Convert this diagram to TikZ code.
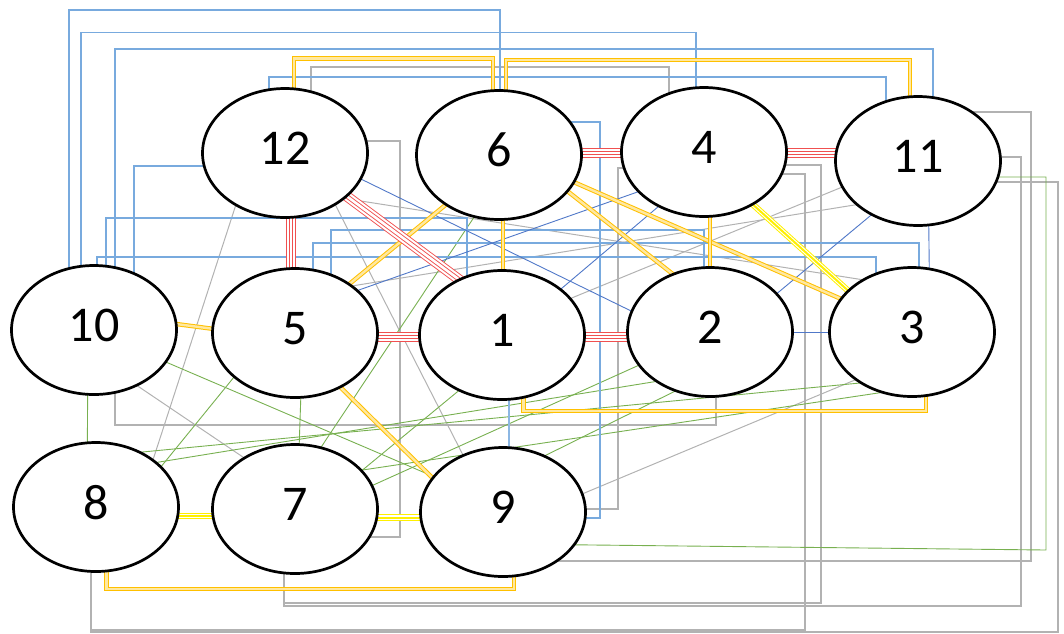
\documentclass[tikz,border=0pt]{standalone}
\usepackage{fontspec}
\setmainfont{Carlito}
\usetikzlibrary{shapes.geometric,backgrounds}
\definecolor{cred}{RGB}{240,80,80}
\definecolor{corg}{RGB}{255,192,0}
\definecolor{corgin}{RGB}{255,232,160}
\definecolor{cyel}{RGB}{255,240,0}
\definecolor{cblue}{RGB}{120,170,222}
\definecolor{cdblue}{RGB}{80,120,200}
\definecolor{cgrey}{RGB}{178,178,178}
\definecolor{cgreen}{RGB}{120,176,80}
\begin{document}
\begin{tikzpicture}[x=1pt,y=-1pt,
  vert/.style={ellipse, draw=black, line width=2.7pt, fill=white, minimum width=165pt, minimum height=129pt, inner sep=0pt, font=\fontsize{50}{60}\selectfont, text depth=10pt},
  ext/.style={shorten <=-4pt, shorten >=-4pt},
  redband/.style={ext, draw=cred, line width=0.9pt, double=white, double distance=8.6pt, postaction={draw=cred, line width=0.9pt, double=white, double distance=2.6pt}},
  orgband/.style={ext, draw=corg, line width=1pt, double=corgin, double distance=2.4pt},
  yelband/.style={ext, draw=cyel, line width=1pt, double=white, double distance=4.2pt, postaction={draw=cyel, line width=1pt, double=white, double distance=0pt}},
  broute/.style={draw=cblue, line width=1.3pt},
  bdiag/.style={ext, draw=cdblue, line width=0.9pt},
  blight/.style={draw=cblue!85, line width=1.5pt},
  groute/.style={draw=cgrey, line width=1.3pt},
  gdiag/.style={ext, draw=cgrey, line width=1pt},
  gr/.style={ext, draw=cgreen, line width=0.9pt}
]
\useasboundingbox (0,0) rectangle (1064,633);
\node[vert] (n12) at (285,153) {12};
\node[vert] (n6) at (499,155) {6};
\node[vert] (n4) at (704,152) {4};
\node[vert] (n11) at (918,161) {11};
\node[vert] (n10) at (94,330) {10};
\node[vert] (n5) at (295,333) {5};
\node[vert] (n1) at (502,335) {1};
\node[vert] (n2) at (710,332) {2};
\node[vert] (n3) at (912,332) {3};
\node[vert] (n8) at (96,507) {8};
\node[vert] (n7) at (295,509) {7};
\node[vert] (n9) at (503,512) {9};
\begin{pgfonlayer}{background}
% grey
\draw[groute] (311,0 |- n12) |- (669,67) -- (669,0 |- n4);
\draw[groute] (n12 |- 0,141) -| (400,537) -- (n7 |- 0,537);
\draw[gdiag] (n12.227) -- (n8.40);
\draw[gdiag] (n12.-46) -- (n9.125);
\draw[gdiag] (n12.-37) -- (n3.134);
\draw[gdiag] (n5.39) -- (n11.215);
\draw[gdiag] (n1.28) -- (n11.199);
\draw[groute] (n4 |- 0,168) -| (618,509) -- (n9 |- 0,509);
\draw[groute] (n4 |- 0,165) -| (821,603) -| (284,0 |- n7);
\draw[groute] (n4 |- 0,174) -| (805,630) -| (91,0 |- n8);
\draw[groute] (n11 |- 0,157) -| (1021,606) -| (284,0 |- n7);
\draw[groute] (n11 |- 0,112) -| (1031,561) -- (n9 |- 0,561);
\draw[groute] (n11 |- 0,182) -| (1058,632) -| (91,0 |- n8);
\draw[gdiag] (n10.-52) -- (n7.135);
\draw[groute] (115,0 |- n10) |- (716,425) -- (716,0 |- n2);
\draw[gdiag] (n3.220) -- (n9.13);
% green
\draw[gr] (88,0 |- n10) -- (87,0 |- n8);
\draw[gr] (n10.-24) -- (n9.153);
\draw[gr] (n5.216) -- (n8.32);
\draw[gr] (303,0 |- n5) -- (297,0 |- n7);
\draw[gr] (n6.248) -- (n7.67);
\draw[gr] (n1.232) -- (n7.30);
\draw[gr] (n2.205) -- (n7.17);
\draw[gr] (n2.222) -- (n8.36);
\draw[gr] (n2.239) -- (n9.53);
\draw[gr] (n3.224) -- (n8.50);
\draw[gr] (n3.242) -- (n7.30);
\draw[gr] (n11 |- 0,177) -| (1046,550) -- (n9 |- 0,544);
% blue
\draw[broute] (69,0 |- n10) |- (500,10) -- (500,0 |- n6);
\draw[broute] (81,0 |- n10) |- (696,32.5) -- (696,0 |- n4);
\draw[broute] (115,0 |- n10) |- (933,49) -- (933,0 |- n11);
\draw[broute] (269,0 |- n12) |- (886,77) -- (886,0 |- n11);
\draw[broute] (n12 |- 0,166) -| (134,0 |- n10);
\draw[broute] (106,0 |- n10) |- (467,218) -- (467,0 |- n1);
\draw[broute] (331,0 |- n5) |- (704,230) -- (704,0 |- n2);
\draw[broute] (313,0 |- n5) |- (919,243) -- (919,0 |- n3);
\draw[broute] (97,0 |- n10) |- (876,257) -- (876,0 |- n3);
\draw[broute] (n6 |- 0,122) -| (600,518) -- (n9 |- 0,518);
\draw[bdiag] (n12.-19) -- (n2.165);
\draw[bdiag] (n5.34) -- (n4.211);
\draw[bdiag] (n1.38) -- (n4.230);
\draw[bdiag] (n2.30) -- (n11.229);
\draw[bdiag] (928,0 |- n11) -- (930,0 |- n3);
\draw[bdiag] (n2) -- (n3);
\draw[blight] (509,0 |- n1) -- (509,0 |- n9);
% orange
\draw[orgband] (294,0 |- n12) |- (493,58.5) -- (493,0 |- n6);
\draw[orgband] (506,0 |- n6) |- (910,60) -- (910,0 |- n11);
\draw[orgband] (n10.4) -- (n5.177);
\draw[orgband] (n5.42) -- (n6.223);
\draw[orgband] (503,0 |- n6) -- (503,0 |- n1);
\draw[orgband] (n6.-28) -- (n2.123);
\draw[orgband] (n6.-20) -- (n3.155);
\draw[orgband] (710,0 |- n4) -- (710,0 |- n2);
\draw[orgband] (n5.-50) -- (n9.154);
\draw[orgband] (523.5,0 |- n1) |- (926,411) -- (926,0 |- n3);
\draw[orgband] (106.5,0 |- n8) |- (514,589) -- (514,0 |- n9);
% yellow
\draw[yelband] (n4.-47) -- (n3.147);
\draw[yelband] (n8 |- 0,516) -- (n7 |- 0,516);
\draw[yelband] (n7 |- 0,517.5) -- (n9 |- 0,517.5);
% red
\draw[redband] (291,0 |- n12) -- (291,0 |- n5);
\draw[redband] (n12.-35) -- (n1.128);
\draw[redband] (n5 |- 0,337) -- (n1 |- 0,337);
\draw[redband] (n1 |- 0,337) -- (n2 |- 0,337);
\draw[redband] (n6 |- 0,153) -- (n4 |- 0,153);
\draw[redband] (n4 |- 0,153) -- (n11 |- 0,153);
\end{pgfonlayer}
\end{tikzpicture}
\end{document}
